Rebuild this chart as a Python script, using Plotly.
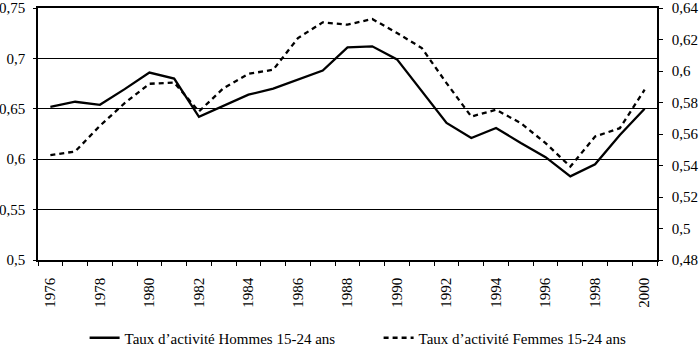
import plotly.graph_objects as go

years = list(range(1976, 2001))
hommes = [0.652, 0.657, 0.654, 0.6695, 0.686, 0.680, 0.642, 0.653, 0.664, 0.670,
          0.679, 0.688, 0.711, 0.712, 0.699, 0.667, 0.636, 0.621, 0.631, 0.616,
          0.602, 0.583, 0.595, 0.624, 0.650]
femmes = [0.5466, 0.5489, 0.5652, 0.5796, 0.5919, 0.5927, 0.5743, 0.5892, 0.5982, 0.6008,
          0.6209, 0.6309, 0.6294, 0.6330, 0.6241, 0.6146, 0.5923, 0.5711, 0.5754, 0.5669,
          0.5542, 0.5393, 0.5584, 0.5637, 0.5881]

x_labels = [str(y) for y in range(1976, 2001, 2)]
x_label_vals = list(range(1976, 2001, 2))
left_vals = [0.5, 0.55, 0.6, 0.65, 0.7, 0.75]
left_text = ["0,5", "0,55", "0,6", "0,65", "0,7", "0,75"]
right_vals = [0.48, 0.5, 0.52, 0.54, 0.56, 0.58, 0.6, 0.62, 0.64]
right_text = ["0,48", "0,5", "0,52", "0,54", "0,56", "0,58", "0,6", "0,62", "0,64"]

name_h = "Taux d\u2019activité Hommes 15-24 ans"
name_f = "Taux d\u2019activité Femmes 15-24 ans"

FONT = "'Liberation Serif', 'Times New Roman', Times, serif"

fig = go.Figure()
fig.add_trace(go.Scatter(x=years, y=hommes, mode="lines", name=name_h,
                         line=dict(color="black", width=2.3), yaxis="y"))
fig.add_trace(go.Scatter(x=years, y=femmes, mode="lines", name=name_f,
                         line=dict(color="black", width=2.3, dash="5px,4px"), yaxis="y2"))

fig.update_layout(
    width=700, height=348,
    margin=dict(l=38, r=43, t=8, b=88, autoexpand=False),
    paper_bgcolor="white", plot_bgcolor="white",
    font=dict(family=FONT, size=15, color="black"),
    showlegend=True,
    legend=dict(orientation="h", x=84.6 / 700, xref="container", xanchor="left",
                y=10 / 348, yref="container", yanchor="middle",
                entrywidth=249, entrywidthmode="pixels",
                font=dict(family=FONT, size=15, color="black"),
                bgcolor="rgba(0,0,0,0)", itemclick=False),
    xaxis=dict(range=[1975.5, 2000.5], tickmode="array", tickvals=x_label_vals,
               ticktext=x_labels, tickangle=-90, ticks="", showgrid=False,
               showline=True, linecolor="black", linewidth=1.5, mirror=True,
               zeroline=False, automargin=False, ticklabelstandoff=10,
               minor=dict(ticks="outside", tick0=1975.5, dtick=1, ticklen=4,
                          tickcolor="black", tickwidth=1, showgrid=False),
               tickfont=dict(family=FONT, size=15)),
    yaxis=dict(range=[0.5, 0.75], tickmode="array", tickvals=left_vals, ticktext=left_text,
               ticks="outside", ticklen=3, tickcolor="black",
               showgrid=True, gridcolor="black", gridwidth=1.3,
               showline=True, linecolor="black", linewidth=1.5, zeroline=False,
               automargin=False, ticklabelstandoff=5,
               tickfont=dict(family=FONT, size=15)),
    yaxis2=dict(range=[0.48, 0.64], tickmode="array", tickvals=right_vals, ticktext=right_text,
                overlaying="y", side="right", ticks="outside", ticklen=4, tickcolor="black",
                showgrid=False, showline=True, linecolor="black", linewidth=1.5,
                zeroline=False, ticklabelstandoff=6, automargin=False,
                tickfont=dict(family=FONT, size=15)),
)

fig.write_html("out.html")
